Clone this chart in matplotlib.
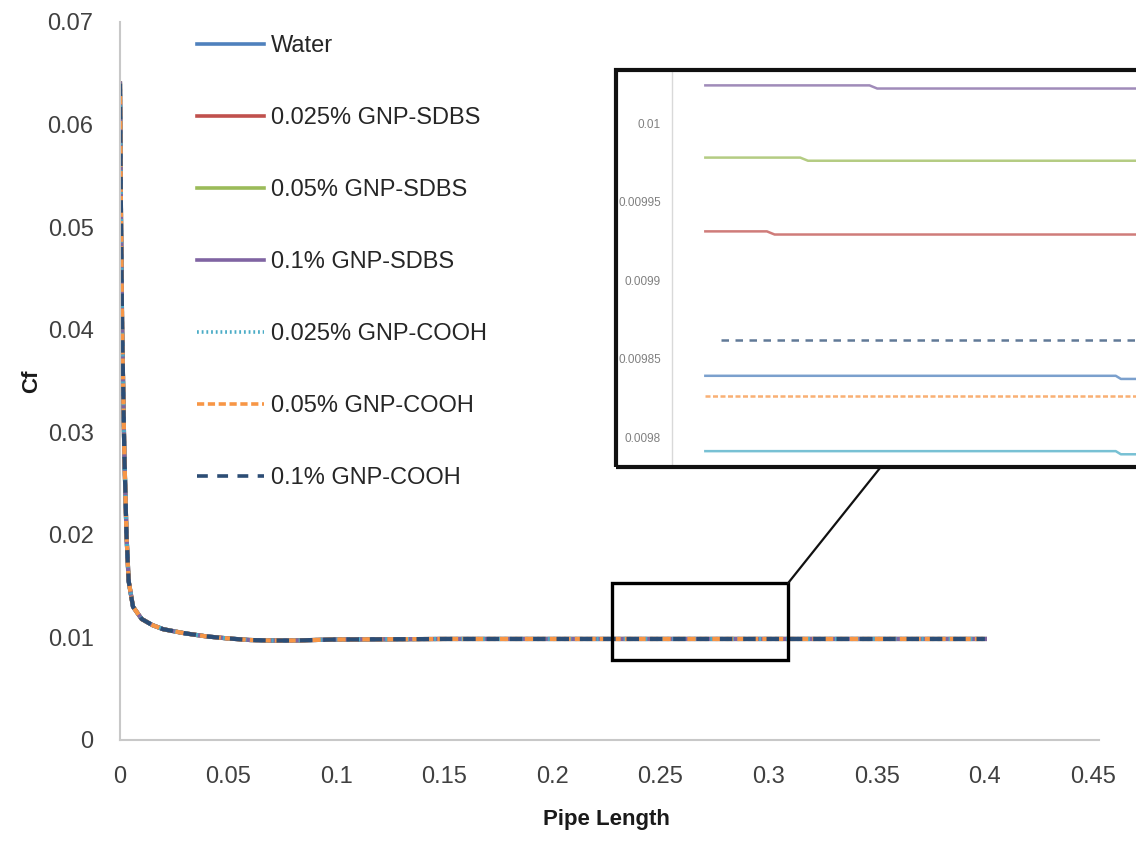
import matplotlib
matplotlib.use("Agg")
import matplotlib.pyplot as plt
from matplotlib.patches import Rectangle, ConnectionPatch

plt.rcParams['font.family'] = ['Liberation Sans Narrow', 'Liberation Sans', 'DejaVu Sans']

# ---------------- data ----------------
series_names = ["Water", "0.025% GNP-SDBS", "0.05% GNP-SDBS", "0.1% GNP-SDBS",
                "0.025% GNP-COOH", "0.05% GNP-COOH", "0.1% GNP-COOH"]
colors = ["#4F81BD", "#C0504D", "#9BBB59", "#8064A2", "#4BACC6", "#F79646", "#2C4D75"]

# main profile (all series overlap visually in the main plot)
x_main = [0.0, 0.0005, 0.001, 0.002, 0.003, 0.004, 0.006, 0.01, 0.015, 0.02, 0.03,
          0.04, 0.05, 0.06, 0.07, 0.08, 0.1, 0.15, 0.2, 0.3, 0.4]
cf_main = [0.064, 0.050, 0.040, 0.028, 0.020, 0.0155, 0.0130, 0.0118, 0.0112, 0.0108,
           0.0104, 0.0101, 0.0099, 0.00975, 0.0097, 0.0097, 0.0098, 0.00985, 0.00985,
           0.00985, 0.00985]

# inset (zoomed) values per series
x_inset_water = [0.23, 0.310, 0.311, 0.33]
cf_inset_water = [0.009839, 0.009839, 0.009837, 0.009837]
x_inset_sdbs025 = [0.23, 0.2420, 0.2435, 0.33]
cf_inset_sdbs025 = [0.009931, 0.009931, 0.009929, 0.009929]
x_inset_sdbs05 = [0.23, 0.2485, 0.2500, 0.33]
cf_inset_sdbs05 = [0.009978, 0.009978, 0.009976, 0.009976]
x_inset_sdbs1 = [0.23, 0.2620, 0.2635, 0.33]
cf_inset_sdbs1 = [0.010024, 0.010024, 0.010022, 0.010022]
x_inset_cooh025 = [0.23, 0.310, 0.311, 0.33]
cf_inset_cooh025 = [0.009791, 0.009791, 0.009789, 0.009789]
x_inset_cooh05 = [0.23, 0.33]
cf_inset_cooh05 = [0.009826, 0.009826]
x_inset_cooh1 = [0.233, 0.33]
cf_inset_cooh1 = [0.009862, 0.009862]

inset_x = [x_inset_water, x_inset_sdbs025, x_inset_sdbs05, x_inset_sdbs1,
           x_inset_cooh025, x_inset_cooh05, x_inset_cooh1]
inset_y = [cf_inset_water, cf_inset_sdbs025, cf_inset_sdbs05, cf_inset_sdbs1,
           cf_inset_cooh025, cf_inset_cooh05, cf_inset_cooh1]

xticks = [0, 0.05, 0.1, 0.15, 0.2, 0.25, 0.3, 0.35, 0.4, 0.45]
xtick_labels = ["0", "0.05", "0.1", "0.15", "0.2", "0.25", "0.3", "0.35", "0.4", "0.45"]
yticks = [0, 0.01, 0.02, 0.03, 0.04, 0.05, 0.06, 0.07]
ytick_labels = ["0", "0.01", "0.02", "0.03", "0.04", "0.05", "0.06", "0.07"]
inset_yticks = [0.0098, 0.00985, 0.0099, 0.00995, 0.01]
inset_ytick_labels = ["0.0098", "0.00985", "0.0099", "0.00995", "0.01"]
zoom_box = (0.2275, 0.0078, 0.3090, 0.0153)  # x0, y0, x1, y1

# ---------------- styles ----------------
lw = 3.0
styles = [dict(ls='-'), dict(ls='-'), dict(ls='-'), dict(ls='-'),
          dict(ls=(0, (0.5, 0.8))), dict(ls=(0, (2.0, 1.0))), dict(ls=(0, (3.0, 2.6)))]

W, H = 1136, 861
fig = plt.figure(figsize=(W / 100, H / 100), dpi=100)

def fx(px):
    return px / W

def fy(py):
    return 1 - py / H

ax = fig.add_axes([fx(120), fy(740), fx(1093) - fx(120), fy(22) - fy(740)])
for i, name in enumerate(series_names):
    ax.plot(x_main, cf_main, color=colors[i], lw=lw, label=name, **styles[i])

ax.set_xlim(0, 0.45)
ax.set_ylim(0, 0.07)
ax.set_xticks(xticks)
ax.set_xticklabels(xtick_labels)
ax.set_yticks(yticks)
ax.set_yticklabels(ytick_labels)
ax.tick_params(axis='both', length=0, labelsize=17, colors='#404040')
ax.tick_params(axis='x', pad=19)
ax.tick_params(axis='y', pad=19)
for s in ['top', 'right']:
    ax.spines[s].set_visible(False)
for s in ['left', 'bottom']:
    ax.spines[s].set_color('#C8C8C8')
    ax.spines[s].set_linewidth(1.5)
ax.spines['bottom'].set_bounds(0, 0.453)
ax.set_xlabel("Pipe Length", fontsize=16, fontweight='bold', color='#1a1a1a', labelpad=15)
ax.set_ylabel("Cf", fontsize=16, fontweight='bold', color='#1a1a1a', labelpad=4)

leg = ax.legend(loc='upper left', bbox_to_anchor=(fx(197), fy(35)),
                bbox_transform=fig.transFigure, frameon=False, fontsize=17,
                labelspacing=2.12, handlelength=2.85, handletextpad=0.28,
                borderpad=0, borderaxespad=0)
for t in leg.get_texts():
    t.set_color('#262626')
for h in leg.get_lines():
    h.set_linewidth(2.6)

# zoom box on main plot
ax.add_patch(Rectangle((zoom_box[0], zoom_box[1]), zoom_box[2] - zoom_box[0],
                       zoom_box[3] - zoom_box[1], fill=False, ec='black', lw=2.4, zorder=5))

# ---------------- inset ----------------
in_left, in_top, in_bottom, in_right = 672, 70, 467, 1165
axi = fig.add_axes([fx(in_left), fy(in_bottom), fx(in_right) - fx(in_left), fy(in_top) - fy(in_bottom)])
for i in range(len(series_names)):
    st = dict(styles[i])
    if i == 4:
        st = dict(ls='-')
    axi.plot(inset_x[i], inset_y[i], color=colors[i], lw=1.8, alpha=0.75, **st)
axi.set_xlim(0.2235, 0.3196)
axi.set_ylim(0.0097809, 0.0100338)
axi.set_yticks(inset_yticks)
axi.set_yticklabels(inset_ytick_labels)
axi.set_xticks([])
axi.tick_params(axis='y', length=0, labelsize=8.5, colors='#808080', pad=8)
for s in ['top', 'right', 'bottom']:
    axi.spines[s].set_visible(False)
axi.spines['left'].set_color('#D9D9D9')
axi.spines['left'].set_linewidth(1.0)

# inset frame
fig.patches.append(Rectangle((fx(616), fy(467)), fx(1150) - fx(616), fy(70) - fy(467),
                             transform=fig.transFigure, fill=False, ec='#111111', lw=3.0,
                             zorder=10))

# connector line
con = ConnectionPatch(xyA=(zoom_box[2], zoom_box[3]), coordsA=ax.transData,
                      xyB=(fx(880), fy(468)), coordsB=fig.transFigure,
                      color='#111111', lw=1.6)
fig.add_artist(con)

fig.savefig("out.png", dpi=100)
